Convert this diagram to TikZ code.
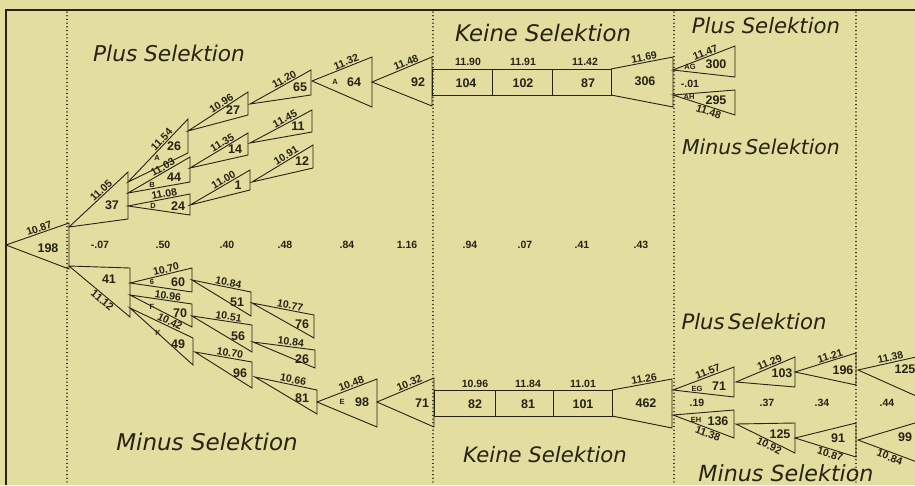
\documentclass[tikz,border=0pt]{standalone}
\usepackage{fontspec}
\setmainfont{Liberation Sans}
\newfontfamily\tfont{DejaVu Sans}
\definecolor{paper}{RGB}{227,221,160}
\definecolor{ink}{RGB}{38,34,20}
\newcommand\Tri[5]{\draw (#1,#2) coordinate (tp) -- (#3,#4) coordinate (tu) -- (#3,#5) coordinate (tb) -- cycle;}
\newcommand\ULab[2][0.55]{\path (tp) -- node[ml,sloped,above,pos=#1]{#2} (tu);}
\newcommand\BLab[2][0.55]{\path (tp) -- node[ml,sloped,below,pos=#1]{#2} (tb);}
\begin{document}
\begin{tikzpicture}[x=1pt,y=-1pt,line width=0.9pt,draw=ink,text=ink,
  ml/.style={font=\bfseries\fontsize{10.5}{10.5}\selectfont,inner sep=0.8pt},
  cnt/.style={font=\bfseries\fontsize{12.5}{12.5}\selectfont,inner sep=0pt},
  sm/.style={font=\bfseries\fontsize{7.5}{7.5}\selectfont,inner sep=0pt},
  mid/.style={font=\bfseries\fontsize{10.5}{10.5}\selectfont,inner sep=0pt},
  sel/.style={font=\tfont\itshape\fontsize{#1}{#1}\selectfont,inner sep=0pt},
  dotline/.style={line width=1.3pt,dash pattern=on 0.1pt off 3.6pt,line cap=round}]
\fill[paper] (0,0) rectangle (915,485);
\useasboundingbox (0,0) rectangle (915,485);
% frame
\draw[line width=1.3pt] (6,485) -- (6,10) -- (915,10);
% dotted separators
\foreach \x in {67,433,674,856} \draw[dotline] (\x,12) -- (\x,485);
% root
\Tri{6}{245}{69}{223}{269} \ULab{10.87} \node[cnt] at (48,248) {198};
% upper branch
\Tri{69}{227}{128}{172}{219} \ULab[0.6]{11.05} \node[cnt] at (112,205) {37};
\Tri{128}{182}{188}{119}{153} \ULab[0.62]{11.54} \node[sm] at (157,158) {A}; \node[cnt] at (174,146) {26};
\Tri{128}{193}{190}{157}{182} \ULab[0.6]{11.03} \node[sm] at (152,185) {B}; \node[cnt] at (174,177) {44};
\Tri{128}{206}{190}{194}{215} \ULab[0.6]{11.08} \node[sm] at (153,206) {D}; \node[cnt] at (178,206) {24};
\Tri{188}{131}{248}{92}{115} \ULab[0.6]{10.96} \node[cnt] at (233,110) {27};
\Tri{190}{168}{248}{133}{155} \ULab[0.6]{11.35} \node[cnt] at (235,149) {14};
\Tri{190}{205}{250}{170}{190} \ULab[0.6]{11.00} \node[cnt] at (238,185) {1};
\Tri{250}{104}{311}{70}{95} \ULab[0.6]{11.20} \node[cnt] at (300,87) {65};
\Tri{250}{143}{312}{110}{132} \ULab[0.6]{11.45} \node[cnt] at (298,126) {11};
\Tri{252}{182}{313}{145}{168} \ULab[0.6]{10.91} \node[cnt] at (302,161) {12};
\Tri{312}{81}{372}{57}{107} \ULab[0.6]{11.32} \node[sm] at (335,82) {A}; \node[cnt] at (354,82) {64};
\Tri{372}{82}{432}{57}{106} \ULab[0.6]{11.48} \node[cnt] at (418,82) {92};
% top boxes
\draw (432,69) rectangle (611,95);
\draw (492,69) -- (492,95) (552,69) -- (552,95);
\draw (611,69) coordinate (tp) -- (673,57) coordinate (tu) -- (673,107) -- (611,95);
\ULab[0.55]{11.69}
\node[ml] at (468,62) {11.90}; \node[ml] at (523,62) {11.91}; \node[ml] at (585,62) {11.42};
\node[cnt] at (466,83) {104}; \node[cnt] at (523,83) {102}; \node[cnt] at (588,83) {87}; \node[cnt] at (645,81) {306};
% right top
\Tri{673}{70}{735}{46}{77} \ULab[0.55]{11.47} \node[sm] at (690,67) {AG}; \node[cnt] at (716,64) {300};
\Tri{673}{95}{735}{90}{115} \BLab[0.6]{11.48} \node[sm] at (689,97) {AH}; \node[cnt] at (716,100) {295};
\node[mid] at (690,84) {-.01};
% lower branch
\Tri{69}{266}{130}{268}{317} \BLab[0.6]{11.12} \node[cnt] at (109,279) {41};
\Tri{130}{283}{192}{268}{292} \ULab[0.6]{10.70} \node[sm] at (152,282) {6}; \node[cnt] at (178,282) {60};
\Tri{130}{295}{192}{304}{327} \ULab[0.6]{10.96} \node[sm] at (152,307) {F}; \node[cnt] at (180,313) {70};
\Tri{130}{308}{193}{338}{365} \ULab[0.6]{10.42} \node[sm] at (158,333) {K}; \node[cnt] at (178,344) {49};
\Tri{192}{280}{251}{292}{316} \ULab[0.6]{10.84} \node[cnt] at (237,302) {51};
\Tri{252}{303}{314}{315}{338} \ULab[0.6]{10.77} \node[cnt] at (302,324) {76};
\Tri{192}{316}{252}{325}{352} \ULab[0.6]{10.51} \node[cnt] at (238,336) {56};
\Tri{253}{342}{315}{350}{368} \ULab[0.6]{10.84} \node[cnt] at (302,359) {26};
\Tri{195}{352}{252}{362}{388} \ULab[0.6]{10.70} \node[cnt] at (240,373) {96};
\Tri{255}{377}{317}{390}{414} \ULab[0.6]{10.66} \node[cnt] at (302,398) {81};
\Tri{317}{402}{377}{379}{427} \ULab[0.6]{10.48} \node[sm] at (342,402) {E}; \node[cnt] at (362,402) {98};
\Tri{377}{402}{434}{378}{427} \ULab[0.6]{10.32} \node[cnt] at (422,403) {71};
% bottom boxes
\draw (434,390) rectangle (612,416);
\draw (495,390) -- (495,416) (553,390) -- (553,416);
\draw (612,390) coordinate (tp) -- (672,379) coordinate (tu) -- (672,428) -- (612,416);
\ULab[0.55]{11.26}
\node[ml] at (475,384) {10.96}; \node[ml] at (528,384) {11.84}; \node[ml] at (583,384) {11.01};
\node[cnt] at (475,404) {82}; \node[cnt] at (528,404) {81}; \node[cnt] at (583,404) {101}; \node[cnt] at (646,403) {462};
% right bottom
\Tri{673}{390}{734}{367}{397} \ULab[0.6]{11.57} \node[sm] at (697,389) {EG}; \node[cnt] at (719,386) {71};
\Tri{673}{415}{734}{410}{438} \BLab[0.6]{11.38} \node[sm] at (696,420) {EH}; \node[cnt] at (718,421) {136};
\Tri{736}{382}{795}{357}{387} \ULab[0.6]{11.29} \node[cnt] at (782,373) {103};
\Tri{736}{424}{795}{423}{453} \BLab[0.6]{10.92} \node[cnt] at (780,434) {125};
\Tri{795}{372}{856}{353}{385} \ULab[0.6]{11.21} \node[cnt] at (843,370) {196};
\Tri{795}{438}{856}{423}{457} \BLab[0.6]{10.87} \node[cnt] at (838,438) {91};
\Tri{858}{370}{925}{355}{400} \ULab[0.5]{11.38} \node[cnt] at (905,369) {125};
\Tri{858}{440}{925}{420}{465} \BLab[0.5]{10.84} \node[cnt] at (905,437) {99};
\node[mid] at (697,403) {.19}; \node[mid] at (767,403) {.37}; \node[mid] at (822,403) {.34}; \node[mid] at (887,403) {.44};
% middle row
\foreach \x/\t in {100/-.07,163/.50,227/.40,285/.48,347/.84,407/1.16,470/.94,525/.07,582/.41,641/.43}
  \node[mid] at (\x,245) {\t};
% section titles
\node[sel=21.7] at (169,53) {Plus Selektion};
\node[sel=22.8] at (543,33) {Keine Selektion};
\node[sel=21.2] at (766,26) {Plus Selektion};
\node[sel=20.4] at (761,147) {Minus\,Selektion};
\node[sel=21.2] at (754,322) {Plus\,Selektion};
\node[sel=23] at (207,442) {Minus Selektion};
\node[sel=21.2] at (545,455) {Keine Selektion};
\node[sel=22.2] at (786,473) {Minus Selektion};
\end{tikzpicture}
\end{document}
